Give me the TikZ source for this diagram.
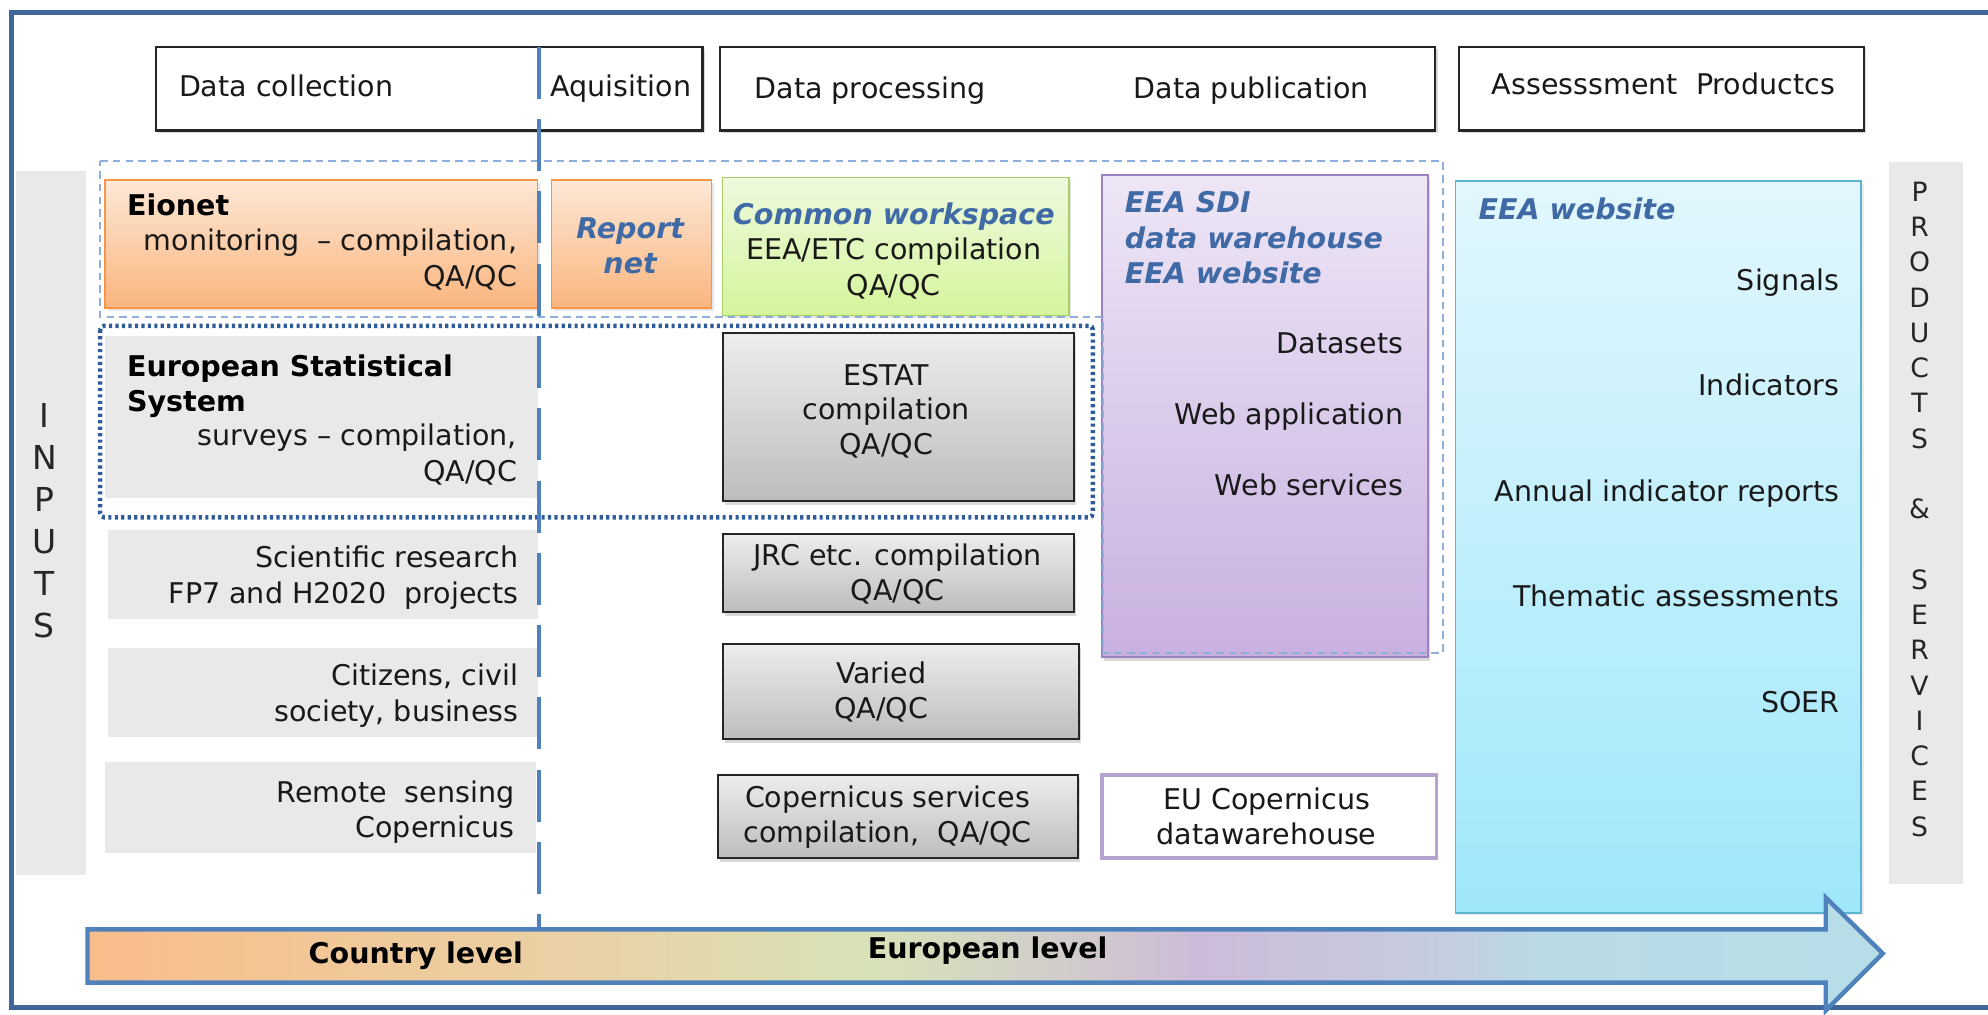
\documentclass[tikz,border=0pt]{standalone}
\usepackage{fontspec}
\setmainfont{DejaVu Sans}
\usetikzlibrary{shadows}
\definecolor{frameblue}{HTML}{41679A}
\definecolor{vlblue}{HTML}{4F81BD}
\definecolor{lightdash}{HTML}{8EAEDB}
\definecolor{dotblue}{HTML}{2E5C9A}
\definecolor{eeablue}{HTML}{3F6AA6}
\definecolor{graybg}{HTML}{E9E9E9}
\definecolor{orbord}{HTML}{F79646}
\definecolor{ortop}{HTML}{FDE8D6}
\definecolor{orbot}{HTML}{FAB57E}
\definecolor{grbord}{HTML}{A8CF6A}
\definecolor{grtop}{HTML}{EEF9DE}
\definecolor{grbot}{HTML}{D5F59C}
\definecolor{pubord}{HTML}{9C82C4}
\definecolor{putop}{HTML}{EEE6F6}
\definecolor{pubot}{HTML}{C8B0E0}
\definecolor{cybord}{HTML}{5BB5D0}
\definecolor{cytop}{HTML}{E2F7FD}
\definecolor{cybot}{HTML}{9FE7FB}
\definecolor{gtop}{HTML}{EDEDED}
\definecolor{gbot}{HTML}{BDBDBD}
\definecolor{eucop}{HTML}{B4A2CF}
\definecolor{ar1}{HTML}{F9BD8A}
\definecolor{ar2}{HTML}{E9D2A6}
\definecolor{ar3}{HTML}{D8E2B9}
\definecolor{ar4}{HTML}{CDBCD9}
\definecolor{ar5}{HTML}{C6CBDF}
\definecolor{ar6}{HTML}{B9DBE6}
\definecolor{ar7}{HTML}{B7DEE8}
\pgfdeclarehorizontalshading{levelshade}{100bp}{color(0bp)=(ar1); color(25bp)=(ar1); color(39bp)=(ar2); color(47bp)=(ar3); color(56bp)=(ar4); color(62bp)=(ar5); color(66bp)=(ar6); color(75bp)=(ar7); color(100bp)=(ar7)}
\newcommand{\bx}[6]{\node[#2, anchor=north west, minimum width={#5-#3}, minimum height={#6-#4}] (#1) at (#3,#4) {};}
\begin{document}
\begin{tikzpicture}[x=1pt,y=-1pt,
  boxbase/.style={inner sep=0pt, outer sep=0pt, rectangle},
  headbox/.style={boxbase, draw=black!85, line width=1.8pt, fill=white, drop shadow={opacity=0.3, shadow xshift=2pt, shadow yshift=-2pt}},
  graybox/.style={boxbase, fill=graybg},
  orbox/.style={boxbase, draw=orbord, line width=1.2pt, top color=ortop, bottom color=orbot, drop shadow={opacity=0.2, shadow xshift=2pt, shadow yshift=-2pt}},
  grbox/.style={boxbase, draw=grbord, line width=1.2pt, top color=grtop, bottom color=grbot, drop shadow={opacity=0.2, shadow xshift=2pt, shadow yshift=-2pt}},
  pubox/.style={boxbase, draw=pubord, line width=1.5pt, top color=putop, bottom color=pubot, drop shadow={opacity=0.3, shadow xshift=2pt, shadow yshift=-3pt}},
  cybox/.style={boxbase, draw=cybord, line width=1.3pt, top color=cytop, bottom color=cybot, drop shadow={opacity=0.15, shadow xshift=2pt, shadow yshift=-2pt}},
  gbox/.style={boxbase, draw=black!85, line width=1.6pt, top color=gtop, bottom color=gbot, drop shadow={opacity=0.3, shadow xshift=2pt, shadow yshift=-3pt}},
  eubox/.style={boxbase, draw=eucop, line width=3pt, fill=white},
  txt/.style={inner sep=0pt, yshift=-5pt, font=\fontsize{22.5}{28}\selectfont, text=black!90},
  btxt/.style={inner sep=0pt, yshift=-5pt, font=\fontsize{22.5}{28}\selectfont\bfseries, text=black},
  bi/.style={inner sep=0pt, yshift=-5pt, font=\fontsize{22.5}{28}\selectfont\bfseries\itshape, text=eeablue},
  letter/.style={inner sep=0pt, font=\fontsize{26}{30}\selectfont, text=black!85},
  pletter/.style={inner sep=0pt, font=\fontsize{21}{24}\selectfont, text=black!85}
]
\useasboundingbox (0,0) rectangle (1568,800);
% outer frame
\draw[frameblue, line width=4pt] (9,10) rectangle (1580,795);

% side bars
\bx{inputs}{graybox}{13}{135}{68}{690}
\foreach \l [count=\i] in {I,N,P,U,T,S}
  \node[letter] (inp\i) at (35,{328+33*(\i-1)}) {\l};
\bx{prodbar}{graybox}{1490}{128}{1548}{697}
\foreach \l [count=\i] in {P,R,O,D,U,C,T,S,{},\&,{},S,E,R,V,I,C,E,S}
  \node[pletter] (prd\i) at (1514,{151+27.83*(\i-1)}) {\l};

% header boxes
\bx{hA}{headbox}{123}{37}{554}{103}
\bx{hB}{headbox}{568}{37}{1132}{103}
\bx{hC}{headbox}{1151}{37}{1470}{103}
\node[txt, anchor=mid west] (hdc) at (141,68) {Data collection};
\node[txt, anchor=mid west] (haq) at (434,68) {Aquisition};
\node[txt, anchor=mid west] (hdp) at (595,70) {Data processing};
\node[txt, anchor=mid west] (hdpub) at (894,70) {Data publication};
\node[txt, anchor=mid] (hap) at (1312,67) {Assesssment\ \ Productcs};

% gray input boxes
\bx{ess}{graybox}{83}{265}{424}{393}
\bx{sci}{graybox}{85}{418}{424}{488}
\bx{cit}{graybox}{85}{511}{424}{581}
\bx{rem}{graybox}{83}{601}{423}{673}

% coloured boxes
\bx{eionet}{orbox}{83}{142}{424}{243}
\bx{repnet}{orbox}{435}{142}{561}{243}
\bx{cws}{grbox}{570}{140}{843}{249}
\bx{sdi}{pubox}{869}{138}{1126}{518}
\bx{web}{cybox}{1148}{143}{1468}{720}

% gray processing boxes
\bx{estat}{gbox}{570}{263}{847}{395}
\bx{jrc}{gbox}{570}{421}{847}{483}
\bx{varied}{gbox}{570}{508}{851}{583}
\bx{copserv}{gbox}{566}{611}{850}{677}
\bx{eucopbox}{eubox}{869}{611}{1133}{677}

% grouping outlines
\draw[lightdash, line width=1.6pt, dash pattern=on 6pt off 4pt] (79,127) -- (1138,127) -- (1138,515) -- (870,515) -- (870,250) -- (79,250) -- cycle;
\draw[dotblue, line width=3.5pt, dash pattern=on 2.5pt off 2.6pt, rounded corners=3pt] (79,257) rectangle (862,408);

% texts
\node[btxt, anchor=mid west] (t1) at (100,162) {Eionet};
\node[txt, anchor=mid east] (t2) at (408,190) {monitoring\ \ – compilation,};
\node[txt, anchor=mid east] (t3) at (408,218) {QA/QC};
\node[bi, anchor=mid] (t4) at (497,180) {Report};
\node[bi, anchor=mid] (t5) at (497,208) {net};
\node[bi, anchor=mid] (t6) at (705,169) {Common workspace};
\node[txt, anchor=mid] (t7) at (705,197) {EEA/ETC compilation};
\node[txt, anchor=mid] (t8) at (705,225) {QA/QC};
\node[bi, anchor=mid west] (t9) at (887,160) {EEA SDI};
\node[bi, anchor=mid west] (t10) at (887,188) {data warehouse};
\node[bi, anchor=mid west] (t11) at (887,216) {EEA website};
\node[txt, anchor=mid east] (t12) at (1107,271) {Datasets};
\node[txt, anchor=mid east] (t13) at (1107,327) {Web application};
\node[txt, anchor=mid east] (t14) at (1107,383) {Web services};
\node[bi, anchor=mid west] (t15) at (1166,165) {EEA website};
\node[txt, anchor=mid east] (t16) at (1451,221) {Signals};
\node[txt, anchor=mid east] (t17) at (1451,304) {Indicators};
\node[txt, anchor=mid east] (t18) at (1451,388) {Annual indicator reports};
\node[txt, anchor=mid east] (t19) at (1451,471) {Thematic assessments};
\node[txt, anchor=mid east] (t20) at (1451,554) {SOER};
\node[btxt, anchor=mid west] (t21) at (100,289) {European Statistical};
\node[btxt, anchor=mid west] (t22) at (100,317) {System};
\node[txt, anchor=mid east] (t23) at (408,344) {surveys – compilation,};
\node[txt, anchor=mid east] (t24) at (408,372) {QA/QC};
\node[txt, anchor=mid] (t25) at (699,296) {ESTAT};
\node[txt, anchor=mid] (t26) at (699,323) {compilation};
\node[txt, anchor=mid] (t27) at (699,351) {QA/QC};
\node[txt, anchor=mid east] (t28) at (409,440) {Scientific research};
\node[txt, anchor=mid east] (t29) at (409,468) {FP7 and H2020\ \ projects};
\node[txt, anchor=mid] (t30) at (708,438) {JRC etc. compilation};
\node[txt, anchor=mid] (t31) at (708,466) {QA/QC};
\node[txt, anchor=mid east] (t32) at (409,533) {Citizens,\ civil};
\node[txt, anchor=mid east] (t33) at (409,561) {society, business};
\node[txt, anchor=mid] (t34) at (695,531) {Varied};
\node[txt, anchor=mid] (t35) at (695,559) {QA/QC};
\node[txt, anchor=mid east] (t36) at (406,625) {Remote\ \ sensing};
\node[txt, anchor=mid east] (t37) at (406,653) {Copernicus};
\node[txt, anchor=mid] (t38) at (700,629) {Copernicus services};
\node[txt, anchor=mid] (t39) at (700,657) {compilation,\ \ QA/QC};
\node[txt, anchor=mid] (t40) at (999,631) {EU Copernicus};
\node[txt, anchor=mid] (t41) at (999,658) {datawarehouse};

% level arrow
\draw[vlblue, line width=3.5pt, shading=levelshade, line join=miter] (69,733) -- (1440,733) -- (1440,708) -- (1485,752) -- (1440,797) -- (1440,775) -- (69,775) -- cycle;
\node[btxt, anchor=mid] (cl) at (328,752) {Country level};
\node[btxt, anchor=mid] (el) at (779,748) {European level};

% country/European divider
\coordinate (divtop) at (425,37);
\coordinate (divbot) at (425,731);
\draw[vlblue, line width=3pt, dash pattern=on 41pt off 16pt] (divtop) -- (divbot);
\end{tikzpicture}
\end{document}
